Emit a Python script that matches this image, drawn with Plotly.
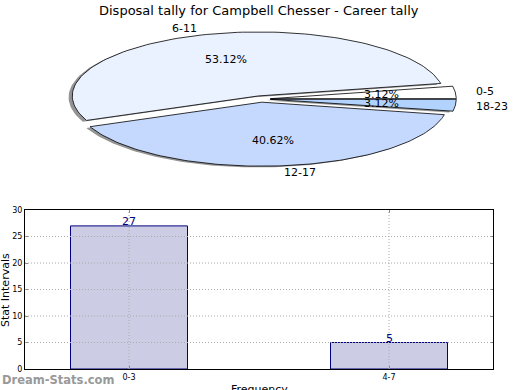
import numpy as np
import plotly.graph_objects as go

# ---- data ----
pie_labels = ["0-5", "6-11", "12-17", "18-23"]
pie_counts = [1, 17, 13, 1]
pie_colors = ["#FFFFFF", "#EAF1FF", "#C5D9FF", "#B3D3FF"]

bar_categories = ["0-3", "4-7"]
bar_values = [27, 5]
y_ticks = [0, 5, 10, 15, 20, 25, 30]

title_text = "Disposal tally for Campbell Chesser - Career tally"

FONT = "DejaVu Sans"
W, H = 520, 390

fig = go.Figure()

# ---- elliptical pie drawn on its own axes (x1/y1) ----
explode = 0.05
total = float(sum(pie_counts))
fracs = [c / total for c in pie_counts]
starts = np.concatenate([[0.0], np.cumsum(fracs)[:-1]]) * 360.0
ends = np.cumsum(fracs) * 360.0

def wedge(a0, a1, dx, dy):
    t = np.radians(np.linspace(a0, a1, 120))
    xs = np.concatenate([[dx], dx + np.cos(t), [dx]])
    ys = np.concatenate([[dy], dy + np.sin(t), [dy]])
    return xs, ys

# shadows
for a0, a1 in zip(starts, ends):
    mid = np.radians((a0 + a1) / 2)
    dx, dy = explode * np.cos(mid), explode * np.sin(mid)
    xs, ys = wedge(a0, a1, dx - 0.02, dy - 0.02)
    fig.add_trace(go.Scatter(x=xs, y=ys, mode="lines", fill="toself",
                             fillcolor="rgba(60,60,60,0.55)",
                             line=dict(width=0), hoverinfo="skip",
                             showlegend=False, xaxis="x", yaxis="y"))
# wedges
for lab, a0, a1, col in zip(pie_labels, starts, ends, pie_colors):
    mid = np.radians((a0 + a1) / 2)
    dx, dy = explode * np.cos(mid), explode * np.sin(mid)
    xs, ys = wedge(a0, a1, dx, dy)
    fig.add_trace(go.Scatter(x=xs, y=ys, mode="lines", fill="toself",
                             fillcolor=col, line=dict(color="black", width=0.8),
                             hoverinfo="skip", showlegend=False,
                             xaxis="x", yaxis="y"))

# pie labels
for lab, f, a0, a1 in zip(pie_labels, fracs, starts, ends):
    mid = np.radians((a0 + a1) / 2)
    dx, dy = explode * np.cos(mid), explode * np.sin(mid)
    lx, ly = dx + 1.1 * np.cos(mid), dy + 1.1 * np.sin(mid)
    fig.add_annotation(x=lx, y=ly, xref="x", yref="y", text=lab,
                       showarrow=False, xanchor="left" if lx > 0 else "right",
                       yanchor="middle", font=dict(family=FONT, size=11, color="black"))
    px_, py_ = dx + 0.6 * np.cos(mid), dy + 0.6 * np.sin(mid)
    fig.add_annotation(x=px_, y=py_, xref="x", yref="y", text="%.2f%%" % (f * 100),
                       showarrow=False, xanchor="center", yanchor="middle",
                       font=dict(family=FONT, size=11, color="black"))

# ---- bar chart on x2/y2 ----
fig.add_trace(go.Bar(x=[0, 1], y=bar_values, width=0.45,
                     marker=dict(color="#CCCCE5", line=dict(color="#000080", width=1)),
                     showlegend=False, hoverinfo="skip", xaxis="x2", yaxis="y2"))
for i, v in enumerate(bar_values):
    fig.add_annotation(x=i, y=v, xref="x2", yref="y2", text=str(v), showarrow=False,
                       yanchor="middle", yshift=4,
                       font=dict(family=FONT, size=11, color="#000080"))

# dotted grid above bars, at the tick positions
grid_style = dict(color="#AAAAAA", width=1, dash="1px,2px")
for yt in y_ticks[1:-1]:
    fig.add_shape(type="line", xref="x2 domain", yref="y2", x0=0, x1=1, y0=yt, y1=yt,
                  line=grid_style, layer="above")
for xi in range(len(bar_categories)):
    fig.add_shape(type="line", xref="x2", yref="y2 domain", x0=xi, x1=xi, y0=0, y1=1,
                  line=grid_style, layer="above")

axis_common = dict(showgrid=False, showline=True, linecolor="black", mirror="ticks",
                   linewidth=1, ticks="inside", ticklen=3, tickcolor="#888888",
                   tickfont=dict(family=FONT, size=8, color="black"), zeroline=False,
                   fixedrange=True, automargin=False)

RX, CX, RY, CY = 186, 261, 64, 99
fig.update_layout(
    width=W, height=H,
    margin=dict(l=0, r=0, t=0, b=0, pad=0, autoexpand=False),
    paper_bgcolor="white", plot_bgcolor="white",
    xaxis=dict(domain=[0, 1], range=[-CX / RX, (W - CX) / RX], visible=False,
               fixedrange=True, automargin=False),
    yaxis=dict(domain=[1 - 200 / H, 1], range=[-(200 - CY) / RY, CY / RY], visible=False,
               fixedrange=True, automargin=False),
    xaxis2=dict(domain=[25 / W, 493 / W], range=[-0.4, 1.4], anchor="y2",
                tickmode="array", tickvals=[0, 1], ticktext=bar_categories, **axis_common),
    yaxis2=dict(domain=[1 - 369 / H, 1 - 210 / H], range=[0, 30], anchor="x2",
                tickmode="array", tickvals=y_ticks, **axis_common),
)

# title and axis titles
fig.add_annotation(x=259 / W, y=1 - 10 / H, xref="paper", yref="paper", text=title_text,
                   showarrow=False, xanchor="center", yanchor="middle",
                   font=dict(family=FONT, size=13, color="black"))
fig.add_annotation(x=5 / W, y=1 - 290 / H, xref="paper", yref="paper", text="Stat Intervals",
                   showarrow=False, textangle=-90, xanchor="center", yanchor="middle",
                   font=dict(family=FONT, size=11, color="black"))
fig.add_annotation(x=259 / W, y=1 - 381 / H, xref="paper", yref="paper", text="Frequency",
                   showarrow=False, xanchor="center", yanchor="top",
                   font=dict(family=FONT, size=11, color="black"))
fig.add_annotation(x=0, y=1 - 380 / H, xref="paper", yref="paper", text="<b>Dream-Stats.com</b>",
                   showarrow=False, xanchor="left", yanchor="middle",
                   font=dict(family=FONT, size=11.5, color="#999999"))

fig.write_html("out.html", config={"displayModeBar": False},
               post_script="document.body.style.margin='0';")
